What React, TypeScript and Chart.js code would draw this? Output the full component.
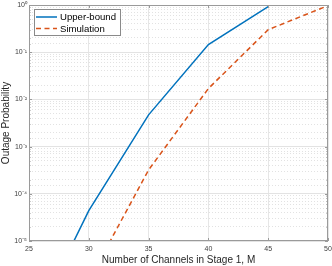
import React, { useEffect, useRef } from "react";
import { Chart, registerables } from "chart.js";

Chart.register(...registerables);

const channels = [25, 30, 35, 40, 45, 50];
const upperBound = [1.15e-7, 4.4e-5, 4.7e-3, 0.145, 0.92, null];
const simulation = [null, 1.45e-6, 3.2e-4, 0.017, 0.3, 0.97];
const xTicks = [25, 30, 35, 40, 45, 50];
const seriesNames = ["Upper-bound", "Simulation"];

const SUP: Record<string, string> = {
  "-": "\u207B", "0": "\u2070", "1": "\u00B9", "2": "\u00B2", "3": "\u00B3",
  "4": "\u2074", "5": "\u2075", "6": "\u2076", "7": "\u2077", "8": "\u2078", "9": "\u2079",
};
const sup = (n: number) => String(n).split("").map((c) => SUP[c] || c).join("");
const isPow10 = (v: number) => {
  const e = Math.log10(v);
  return Math.abs(e - Math.round(e)) < 1e-9;
};

const FONT = "'Liberation Sans', Arial, Helvetica, sans-serif";

const boxPlugin = {
  id: "matlabBox",
  afterDatasetsDraw(chart: any) {
    const { ctx, chartArea: a, scales } = chart;
    ctx.save();
    ctx.strokeStyle = "#9a9a9a";
    ctx.lineWidth = 1;
    ctx.beginPath();
    const xs = scales.x;
    xs.ticks.forEach((t: any) => {
      const px = Math.round(xs.getPixelForValue(t.value)) + 0.5;
      ctx.moveTo(px, a.bottom);
      ctx.lineTo(px, a.bottom - 3);
      ctx.moveTo(px, a.top);
      ctx.lineTo(px, a.top + 3);
    });
    const ys = scales.y;
    ys.ticks.forEach((t: any) => {
      const py = Math.round(ys.getPixelForValue(t.value)) + 0.5;
      const len = isPow10(t.value) ? 3 : 1.5;
      ctx.moveTo(a.left, py);
      ctx.lineTo(a.left + len, py);
      ctx.moveTo(a.right, py);
      ctx.lineTo(a.right - len, py);
    });
    ctx.stroke();
    ctx.strokeRect(Math.round(a.left) + 0.5, Math.round(a.top) + 0.5, Math.round(a.right - a.left) - 1, Math.round(a.bottom - a.top) - 1);
    ctx.restore();
  },
  afterDraw(chart: any) {
    const { ctx, chartArea: a } = chart;
    const x0 = a.left + 5;
    const y0 = a.top + 4;
    const w = 87;
    const h = 27;
    ctx.save();
    ctx.fillStyle = "#ffffff";
    ctx.fillRect(x0, y0, w, h);
    ctx.strokeStyle = "#8a8a8a";
    ctx.lineWidth = 1;
    ctx.strokeRect(x0 + 0.5, y0 + 0.5, w - 1, h - 1);
    ctx.font = `9.6px ${FONT}`;
    ctx.textBaseline = "middle";
    chart.data.datasets.forEach((ds: any, i: number) => {
      const yy = y0 + 8 + i * 11.5;
      ctx.beginPath();
      ctx.strokeStyle = ds.borderColor;
      ctx.lineWidth = ds.borderWidth;
      ctx.setLineDash(ds.borderDash || []);
      ctx.moveTo(x0 + 2, yy);
      ctx.lineTo(x0 + 23, yy);
      ctx.stroke();
      ctx.setLineDash([]);
      ctx.fillStyle = "#000";
      ctx.fillText(ds.label, x0 + 26, yy + 0.5);
    });
    ctx.restore();
  },
};

export default function App() {
  const ref = useRef<HTMLCanvasElement>(null);
  useEffect(() => {
    document.body.style.margin = "0";
    const chart = new Chart(ref.current as HTMLCanvasElement, {
      type: "line",
      data: {
        datasets: [
          {
            label: seriesNames[0],
            data: channels.map((x, i) => ({ x, y: upperBound[i] })) as any,
            borderColor: "#0072BD",
            backgroundColor: "#0072BD",
            borderWidth: 1.5,
            pointRadius: 0,
          },
          {
            label: seriesNames[1],
            data: channels.map((x, i) => ({ x, y: simulation[i] })) as any,
            borderColor: "#D95319",
            backgroundColor: "#D95319",
            borderWidth: 1.5,
            borderDash: [5, 3.5],
            pointRadius: 0,
          },
        ],
      },
      options: {
        responsive: false,
        animation: false,
        layout: { padding: { top: 5, right: 0, left: 0, bottom: 0 } },
        plugins: { legend: { display: false }, tooltip: { enabled: false } },
        scales: {
          x: {
            type: "linear",
            min: 25,
            max: 50,
            afterBuildTicks: (s: any) => {
              s.ticks = xTicks.map((v) => ({ value: v }));
            },
            afterFit: (s: any) => {
              s.height = 25;
              s.paddingRight = 4;
              s.paddingLeft = 0;
            },
            ticks: {
              font: { family: FONT, size: 7 },
              color: "#404040",
              padding: 4,
              maxRotation: 0,
              autoSkip: false,
            },
            grid: { color: "#e6e6e6", lineWidth: 1, drawTicks: false },
            border: { display: false },
            title: {
              display: true,
              text: "Number of Channels in Stage 1, M",
              font: { family: FONT, size: 10 },
              color: "#262626",
              padding: { top: 0, bottom: 0 },
            },
          },
          y: {
            type: "logarithmic",
            min: 1e-5,
            max: 1,
            afterFit: (s: any) => {
              s.width = 29;
              s.paddingTop = 0;
              s.paddingBottom = 0;
            },
            ticks: {
              autoSkip: false,
              font: { family: FONT, size: 7 },
              color: "#404040",
              padding: 2,
              callback: (v: any) => {
                const n = Number(v);
                return isPow10(n) ? "10" + sup(Math.round(Math.log10(n))) : "";
              },
            },
            grid: {
              drawTicks: false,
              color: (c: any) => (c.tick && isPow10(c.tick.value) ? "#e3e3e3" : "#e2e2e2"),
              lineWidth: 1,
            },
            border: {
              display: false,
              dash: (c: any) => (c.tick && isPow10(c.tick.value) ? [] : [1, 2]),
            } as any,
            title: {
              display: true,
              text: "Outage Probability",
              font: { family: FONT, size: 10 },
              color: "#262626",
              padding: { top: 0, bottom: 0 },
            },
          },
        },
      },
      plugins: [boxPlugin],
    });
    return () => chart.destroy();
  }, []);
  return (
    <div style={{ width: 332, height: 266 }}>
      <canvas ref={ref} width={332} height={266} />
    </div>
  );
}
